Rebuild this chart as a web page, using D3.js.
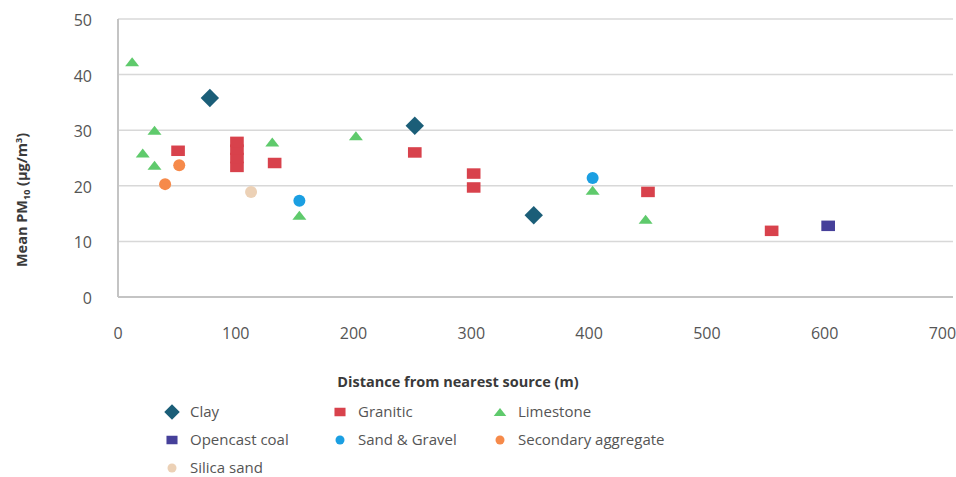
<!DOCTYPE html>
<html>
<head>
<meta charset="utf-8">
<script src="https://cdn.jsdelivr.net/npm/d3@7"></script>
<style>
  body { margin: 0; background: #fff; }
  #root { width: 956px; height: 477px; }
  text { font-family: 'Open Sans', sans-serif; }
</style>
</head>
<body>
<div id="root"></div>
<script>
// values (distance in m, mean PM10 in µg/m3)
const clayX = [78, 252, 353]
const clayY = [35.8, 30.8, 14.7]
const graniticX = [51, 101, 101, 101, 101, 133, 252, 302, 302, 450, 555]
const graniticY = [26.3, 23.4, 25, 26.5, 27.9, 24.1, 26, 22.2, 19.7, 18.9, 11.9]
const limestoneX = [12, 21, 31, 31, 131, 154, 202, 403, 448]
const limestoneY = [42.3, 25.9, 30, 23.7, 27.9, 14.7, 29, 19.2, 14]
const coalX = [603]
const coalY = [12.8]
const sandX = [154, 403]
const sandY = [17.3, 21.4]
const secondaryX = [40, 52]
const secondaryY = [20.3, 23.7]
const silicaX = [113]
const silicaY = [18.9]

const xTicks = [0, 100, 200, 300, 400, 500, 600, 700]
const yTicks = [0, 10, 20, 30, 40, 50]

const series = [
  { name: 'Clay', shape: 'diamond', color: '#1b5e78', xs: clayX, ys: clayY },
  { name: 'Granitic', shape: 'rect', color: '#d8424c', xs: graniticX, ys: graniticY },
  { name: 'Limestone', shape: 'triangle', color: '#5fca6c', xs: limestoneX, ys: limestoneY },
  { name: 'Opencast coal', shape: 'rect', color: '#46409a', xs: coalX, ys: coalY },
  { name: 'Sand & Gravel', shape: 'circle', color: '#1b9fe2', xs: sandX, ys: sandY },
  { name: 'Secondary aggregate', shape: 'circle', color: '#f68a4a', xs: secondaryX, ys: secondaryY },
  { name: 'Silica sand', shape: 'circle', color: '#ecd1b6', xs: silicaX, ys: silicaY }
]

const div = document.getElementById('root')
const width = 956
const height = 477
const svg = d3.select(div).append('svg').attr('width', width).attr('height', height)

const x = d3.scaleLinear().domain([0, 709]).range([118, 953])
const y = d3.scaleLinear().domain([0, 50]).range([297, 19])

// gridlines
svg.append('g')
  .selectAll('line')
  .data(yTicks.filter(d => d > 0))
  .join('line')
  .attr('x1', x(0)).attr('x2', x(709))
  .attr('y1', d => y(d)).attr('y2', d => y(d))
  .attr('stroke', '#d8d8d8')
  .attr('stroke-width', 1.5)

// axes lines
svg.append('line')
  .attr('x1', x(0)).attr('x2', x(0)).attr('y1', y(50)).attr('y2', y(0))
  .attr('stroke', '#c4c4c4').attr('stroke-width', 2)
svg.append('line')
  .attr('x1', x(0)).attr('x2', x(709)).attr('y1', y(0)).attr('y2', y(0))
  .attr('stroke', '#c4c4c4').attr('stroke-width', 2)

// tick labels
svg.append('g')
  .selectAll('text')
  .data(yTicks)
  .join('text')
  .attr('x', 92)
  .attr('y', d => y(d) + 7)
  .attr('text-anchor', 'end')
  .attr('font-size', 16)
  .attr('fill', '#555')
  .text(d => d)

svg.append('g')
  .selectAll('text')
  .data(xTicks)
  .join('text')
  .attr('x', d => x(d))
  .attr('y', 339)
  .attr('text-anchor', 'middle')
  .attr('font-size', 16)
  .attr('fill', '#555')
  .text(d => d)

// axis titles
svg.append('text')
  .attr('x', 458)
  .attr('y', 387)
  .attr('text-anchor', 'middle')
  .attr('font-size', 14.5)
  .attr('font-weight', 'bold')
  .attr('fill', '#3a3a3a')
  .text('Distance from nearest source (m)')

const yTitle = svg.append('text')
  .attr('transform', 'translate(27,200) rotate(-90)')
  .attr('text-anchor', 'middle')
  .attr('font-size', 14.5)
  .attr('font-weight', 'bold')
  .attr('fill', '#3a3a3a')
yTitle.append('tspan').text('Mean PM')
yTitle.append('tspan').attr('font-size', 9).attr('dy', 3).text('10')
yTitle.append('tspan').attr('dy', -3).text(' (µg/m')
yTitle.append('tspan').attr('font-size', 9).attr('dy', -5).text('3')
yTitle.append('tspan').attr('dy', 5).text(')')

// marker drawing
function drawMarker (g, shape, color, size) {
  if (shape === 'diamond') {
    g.append('path')
      .attr('d', d3.symbol(d3.symbolSquare, size * size)())
      .attr('transform', 'rotate(45)')
      .attr('fill', color)
  } else if (shape === 'rect') {
    g.append('rect')
      .attr('x', -size * 0.65).attr('y', -size * 0.5)
      .attr('width', size * 1.3).attr('height', size)
      .attr('fill', color)
  } else if (shape === 'triangle') {
    const w = size * 0.7
    const h = size * 0.9
    g.append('path')
      .attr('d', `M0,${-h / 2}L${w},${h / 2}L${-w},${h / 2}Z`)
      .attr('fill', color)
  } else {
    g.append('circle').attr('r', size / 2).attr('fill', color)
  }
}

const sizes = { diamond: 13, rect: 10.5, triangle: 10, circle: 12 }

series.forEach(s => {
  const pts = s.xs.map((v, i) => [v, s.ys[i]])
  svg.append('g')
    .selectAll('g')
    .data(pts)
    .join('g')
    .attr('transform', d => `translate(${x(d[0])},${y(d[1])})`)
    .each(function () {
      drawMarker(d3.select(this), s.shape, s.color, sizes[s.shape])
    })
})

// legend
const legendCols = [172, 340, 500]
const legendRows = [412, 440, 468]
const legendSizes = { diamond: 11, rect: 8.5, triangle: 9, circle: 9 }
const legend = svg.append('g')
  .selectAll('g')
  .data(series)
  .join('g')
  .attr('transform', (d, i) => `translate(${legendCols[i % 3]},${legendRows[Math.floor(i / 3)]})`)

legend.each(function (d) {
  drawMarker(d3.select(this), d.shape, d.color, legendSizes[d.shape])
})
legend.append('text')
  .attr('x', 18)
  .attr('y', 5)
  .attr('font-size', 15)
  .attr('fill', '#555')
  .text(d => d.name)
</script>
</body>
</html>
